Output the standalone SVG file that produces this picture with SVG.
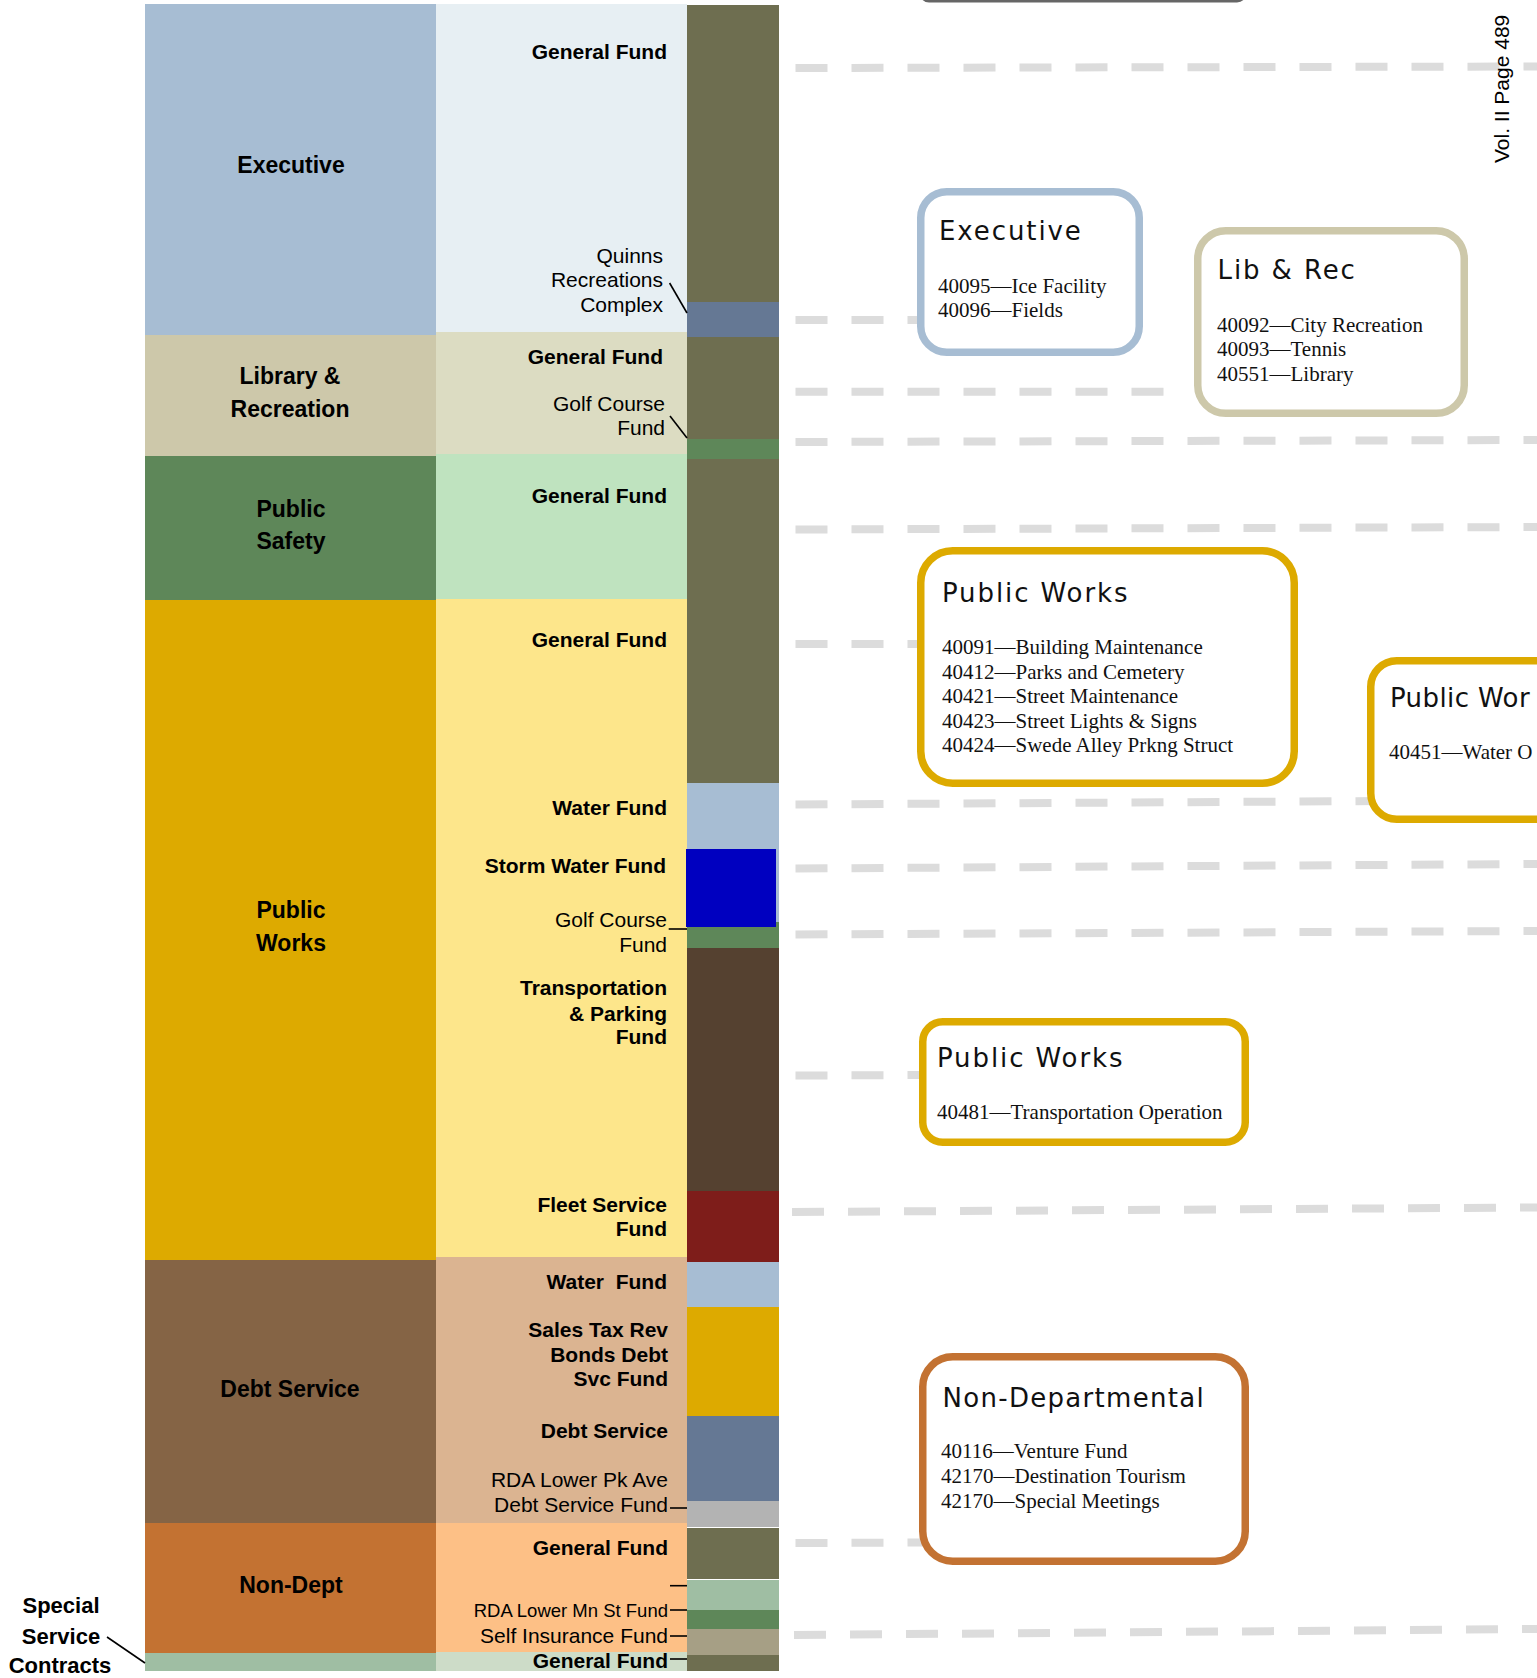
<svg xmlns="http://www.w3.org/2000/svg" width="1537" height="1678" viewBox="0 0 1537 1678">
<style>
.bl{font-family:"Liberation Sans",Arial,sans-serif;font-weight:bold;font-size:23px;fill:#000;text-anchor:middle}
.fb{font-family:"Liberation Sans",Arial,sans-serif;font-weight:bold;font-size:21px;fill:#000;text-anchor:end}
.fr{font-family:"Liberation Sans",Arial,sans-serif;font-size:21px;fill:#000;text-anchor:end}
.dash{stroke:#dcdcdc;stroke-width:8;stroke-dasharray:32 24;fill:none}
.lead{stroke:#000;stroke-width:1.6;fill:none}
.box{fill:#fff;stroke-width:7.5}
.ttl{font-family:"DejaVu Sans","Liberation Sans",sans-serif;font-size:26px;letter-spacing:1.9px;fill:#111}
.itm{font-family:"Liberation Serif","Times New Roman",serif;font-size:21px;fill:#111}
</style>
<rect width="1537" height="1678" fill="#fff"/>

<g id="dept-column">
<rect x="145" y="4" width="291" height="331" fill="#a7bdd3"/>
<rect x="145" y="335" width="291" height="121" fill="#cdc8aa"/>
<rect x="145" y="456" width="291" height="144" fill="#5e8759"/>
<rect x="145" y="600" width="291" height="660" fill="#ddaa00"/>
<rect x="145" y="1260" width="291" height="263" fill="#856445"/>
<rect x="145" y="1523" width="291" height="130" fill="#c37232"/>
<rect x="145" y="1653" width="291" height="18" fill="#9fbea3"/>
<text class="bl" x="291" y="173">Executive</text>
<text class="bl" x="290" y="384">Library &amp;</text>
<text class="bl" x="290" y="417">Recreation</text>
<text class="bl" x="291" y="517">Public</text>
<text class="bl" x="291" y="549">Safety</text>
<text class="bl" x="291" y="918">Public</text>
<text class="bl" x="291" y="951">Works</text>
<text class="bl" x="290" y="1397">Debt Service</text>
<text class="bl" x="291" y="1593">Non-Dept</text>
<text class="bl" x="61" y="1613" style="font-size:22px">Special</text>
<text class="bl" x="61" y="1644" style="font-size:22px">Service</text>
<text class="bl" x="60" y="1673" style="font-size:22px">Contracts</text>
</g>

<g id="fund-column">
<rect x="436" y="4" width="251" height="328" fill="#e7eff3"/>
<rect x="436" y="332" width="251" height="122" fill="#dcdcc2"/>
<rect x="436" y="454" width="251" height="145" fill="#bfe3bf"/>
<rect x="436" y="599" width="251" height="658" fill="#fde68b"/>
<rect x="436" y="1257" width="251" height="266" fill="#dbb491"/>
<rect x="436" y="1523" width="251" height="129" fill="#fdc086"/>
<rect x="436" y="1652" width="251" height="19" fill="#cddcc8"/>
<text class="fb" x="667" y="59">General Fund</text>
<text class="fr" x="663" y="263">Quinns</text>
<text class="fr" x="663" y="287">Recreations</text>
<text class="fr" x="663" y="312">Complex</text>
<text class="fb" x="663" y="364">General Fund</text>
<text class="fr" x="665" y="411">Golf Course</text>
<text class="fr" x="665" y="435">Fund</text>
<text class="fb" x="667" y="503">General Fund</text>
<text class="fb" x="667" y="647">General Fund</text>
<text class="fb" x="667" y="815">Water Fund</text>
<text class="fb" x="666" y="873">Storm Water Fund</text>
<text class="fr" x="667" y="927">Golf Course</text>
<text class="fr" x="667" y="952">Fund</text>
<text class="fb" x="667" y="995">Transportation</text>
<text class="fb" x="667" y="1021">&amp; Parking</text>
<text class="fb" x="667" y="1044">Fund</text>
<text class="fb" x="667" y="1212">Fleet Service</text>
<text class="fb" x="667" y="1236">Fund</text>
<text class="fb" x="667" y="1289">Water&#160; Fund</text>
<text class="fb" x="668" y="1337">Sales Tax Rev</text>
<text class="fb" x="668" y="1362">Bonds Debt</text>
<text class="fb" x="668" y="1386">Svc Fund</text>
<text class="fb" x="668" y="1438">Debt Service</text>
<text class="fr" x="668" y="1487">RDA Lower Pk Ave</text>
<text class="fr" x="668" y="1512">Debt Service Fund</text>
<text class="fb" x="668" y="1555">General Fund</text>
<text class="fr" x="668" y="1617" style="font-size:18.5px">RDA Lower Mn St Fund</text>
<text class="fr" x="668" y="1643">Self Insurance Fund</text>
<text class="fb" x="668" y="1668">General Fund</text>
</g>

<g id="fund-bar">
<rect x="687" y="5" width="92" height="297" fill="#6e6e50"/>
<rect x="687" y="302" width="92" height="35" fill="#657894"/>
<rect x="687" y="337" width="92" height="102" fill="#6e6e50"/>
<rect x="687" y="439" width="92" height="20" fill="#5e8759"/>
<rect x="687" y="459" width="92" height="324" fill="#6e6e50"/>
<rect x="687" y="783" width="92" height="139" fill="#a7bdd3"/>
<rect x="687" y="922" width="92" height="26" fill="#5e8759"/>
<rect x="686" y="849" width="90" height="78" fill="#0000c0"/>
<rect x="687" y="948" width="92" height="243" fill="#554130"/>
<rect x="687" y="1191" width="92" height="71" fill="#7e1d1a"/>
<rect x="687" y="1262" width="92" height="45" fill="#a7bdd3"/>
<rect x="687" y="1307" width="92" height="109" fill="#ddaa00"/>
<rect x="687" y="1416" width="92" height="85" fill="#657894"/>
<rect x="687" y="1501" width="92" height="26" fill="#b3b3b3"/>
<rect x="687" y="1528" width="92" height="51" fill="#6e6e50"/>
<rect x="687" y="1580" width="92" height="30" fill="#9fbea3"/>
<rect x="687" y="1610" width="92" height="19" fill="#5e8759"/>
<rect x="687" y="1629" width="92" height="26" fill="#a69f85"/>
<rect x="687" y="1655" width="92" height="16" fill="#6e6e50"/>
</g>

<g id="connectors">
<line class="dash" x1="795.5" y1="68" x2="1537" y2="66.5"/>
<line class="dash" x1="795.5" y1="320" x2="930" y2="320"/>
<line class="dash" x1="795.5" y1="391.7" x2="1164" y2="391.7"/>
<line class="dash" x1="795.5" y1="442" x2="1537" y2="440"/>
<line class="dash" x1="795.5" y1="529.5" x2="1537" y2="527"/>
<line class="dash" x1="795.5" y1="644" x2="930" y2="644"/>
<line class="dash" x1="795.5" y1="804.5" x2="1380" y2="801"/>
<line class="dash" x1="795.5" y1="868.5" x2="1537" y2="864"/>
<line class="dash" x1="795.5" y1="934.5" x2="1537" y2="931"/>
<line class="dash" x1="795.5" y1="1075.5" x2="930" y2="1075"/>
<line class="dash" x1="792" y1="1212" x2="1537" y2="1207.5"/>
<line class="dash" x1="795.5" y1="1543" x2="930" y2="1542.5"/>
<line class="dash" x1="794" y1="1635" x2="1537" y2="1629"/>
<line class="lead" x1="669.6" y1="283" x2="687" y2="313"/>
<line class="lead" x1="670" y1="416" x2="687" y2="438"/>
<line class="lead" x1="668.7" y1="929" x2="687" y2="929"/>
<line class="lead" x1="670" y1="1508" x2="687" y2="1508"/>
<line class="lead" x1="670" y1="1585.7" x2="687" y2="1585.7"/>
<line class="lead" x1="670" y1="1610" x2="687" y2="1610"/>
<line class="lead" x1="670" y1="1636" x2="687" y2="1636"/>
<line class="lead" x1="670" y1="1659" x2="687" y2="1659"/>
<line class="lead" x1="107" y1="1637" x2="145" y2="1663"/>
</g>

<g id="box-top">
<rect x="921" y="-40" width="324" height="41" rx="8" fill="#fff" stroke="#666" stroke-width="3"/>
</g>

<g id="box-executive">
<rect class="box" x="920.75" y="191.75" width="218.5" height="160.5" rx="26" stroke="#a7bdd3"/>
<text class="ttl" x="939" y="240">Executive</text>
<text class="itm" x="938" y="293">40095—Ice Facility</text>
<text class="itm" x="938" y="317">40096—Fields</text>
</g>

<g id="box-librec">
<rect class="box" x="1197.75" y="230.75" width="266.5" height="182.5" rx="28" stroke="#cdc8aa"/>
<text class="ttl" x="1217.5" y="279">Lib &amp; Rec</text>
<text class="itm" x="1217" y="332">40092—City Recreation</text>
<text class="itm" x="1217" y="356">40093—Tennis</text>
<text class="itm" x="1217" y="381">40551—Library</text>
</g>

<g id="box-publicworks-1">
<rect class="box" x="920.75" y="550.75" width="373.5" height="232.5" rx="32" stroke="#ddaa00"/>
<text class="ttl" x="942" y="602">Public Works</text>
<text class="itm" x="942" y="654">40091—Building Maintenance</text>
<text class="itm" x="942" y="679">40412—Parks and Cemetery</text>
<text class="itm" x="942" y="703">40421—Street Maintenance</text>
<text class="itm" x="942" y="728">40423—Street Lights &amp; Signs</text>
<text class="itm" x="942" y="752">40424—Swede Alley Prkng Struct</text>
</g>

<g id="box-publicworks-2">
<rect class="box" x="1370.75" y="660.75" width="260" height="158.5" rx="26" stroke="#ddaa00"/>
<text class="ttl" x="1390" y="707" style="letter-spacing:0.4px">Public Wor</text>
<text class="itm" x="1389" y="759">40451—Water O</text>
</g>

<g id="box-publicworks-3">
<rect class="box" x="922.75" y="1021.75" width="322.5" height="120.5" rx="20" stroke="#ddaa00"/>
<text class="ttl" x="937" y="1067">Public Works</text>
<text class="itm" x="937" y="1119">40481—Transportation Operation</text>
</g>

<g id="box-nondept">
<rect class="box" x="922.75" y="1356.75" width="322.5" height="204.5" rx="30" stroke="#c37232"/>
<text class="ttl" x="942.5" y="1407" style="letter-spacing:1.3px">Non-Departmental</text>
<text class="itm" x="941" y="1458">40116—Venture Fund</text>
<text class="itm" x="941" y="1482.5">42170—Destination Tourism</text>
<text class="itm" x="941" y="1507.5">42170—Special Meetings</text>
</g>

<g id="page-label">
<text x="0" y="0" transform="translate(1509,163) rotate(-90)" style="font-family:'Liberation Sans',Arial,sans-serif;font-size:21px;fill:#000">Vol. II Page 489</text>
</g>
</svg>
